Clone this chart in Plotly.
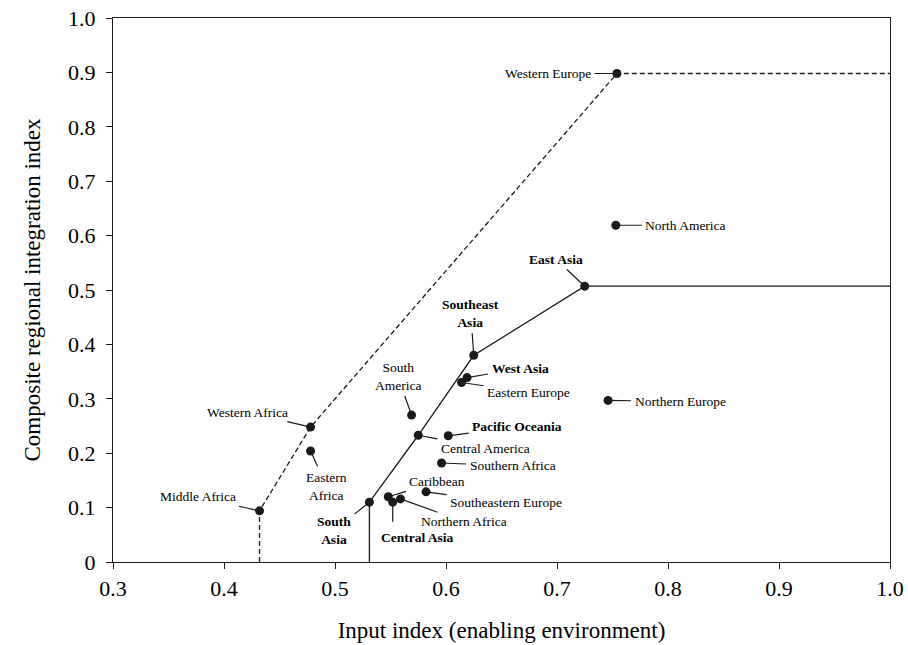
import plotly.graph_objects as go

# ---- data ----
regions = ["Western Europe", "North America", "East Asia", "Southeast Asia", "West Asia",
           "Eastern Europe", "Northern Europe", "Pacific Oceania", "Central America",
           "Southern Africa", "South America", "Western Africa", "Eastern Africa",
           "Middle Africa", "South Asia", "Caribbean", "Central Asia", "Northern Africa",
           "Southeastern Europe"]
input_index = [0.754, 0.753, 0.725, 0.625, 0.619, 0.614, 0.746, 0.602, 0.575,
               0.596, 0.569, 0.478, 0.478, 0.432, 0.531, 0.548, 0.552, 0.559, 0.582]
composite_index = [0.898, 0.619, 0.507, 0.380, 0.339, 0.330, 0.297, 0.232, 0.233,
                   0.182, 0.270, 0.248, 0.204, 0.094, 0.110, 0.120, 0.110, 0.116, 0.129]
bold_regions = ["East Asia", "Southeast Asia", "West Asia", "Pacific Oceania",
                "South Asia", "Central Asia"]
upper_frontier = ["Middle Africa", "Western Africa", "Western Europe"]
lower_frontier = ["South Asia", "Central America", "Southeast Asia", "East Asia"]
x_ticks = [0.3, 0.4, 0.5, 0.6, 0.7, 0.8, 0.9, 1.0]
x_tick_labels = ["0.3", "0.4", "0.5", "0.6", "0.7", "0.8", "0.9", "1.0"]
y_ticks = [0, 0.1, 0.2, 0.3, 0.4, 0.5, 0.6, 0.7, 0.8, 0.9, 1.0]
y_tick_labels = ["0", "0.1", "0.2", "0.3", "0.4", "0.5", "0.6", "0.7", "0.8", "0.9", "1.0"]
X_RANGE = [0.3, 1.0]
Y_RANGE = [0, 1.0]

# ---- label layout (pixel offsets of the text from its point) ----
label_layout = {
    "Western Europe": (-69, 0, "Western Europe"),
    "North America": (70, 0, "North America"),
    "East Asia": (-29, -27, "East Asia"),
    "Southeast Asia": (-3, -42, "Southeast<br>Asia"),
    "West Asia": (53, -9, "West Asia"),
    "Eastern Europe": (67, 10, "Eastern Europe"),
    "Northern Europe": (72, 1, "Northern Europe"),
    "Pacific Oceania": (69, -9, "Pacific Oceania"),
    "Central America": (67, 13, "Central America"),
    "Southern Africa": (71, 3, "Southern Africa"),
    "South America": (-14, -39, "South<br>America"),
    "Western Africa": (-63, -15, "Western Africa"),
    "Eastern Africa": (16, 35, "Eastern<br>Africa"),
    "Middle Africa": (-62, -14, "Middle Africa"),
    "South Asia": (-35, 28, "South<br>Asia"),
    "Caribbean": (49, -15, "Caribbean"),
    "Northern Africa": (64, 23, "Northern Africa"),
    "Southeastern Europe": (80, 11, "Southeastern Europe"),
}

FONT = "Liberation Serif"
INK = "#1a1a1a"

lookup = {r: (x, y) for r, x, y in zip(regions, input_index, composite_index)}

fig = go.Figure()

# upper (dashed) frontier
ux = [lookup[upper_frontier[0]][0]] + [lookup[r][0] for r in upper_frontier] + [X_RANGE[1]]
uy = [Y_RANGE[0]] + [lookup[r][1] for r in upper_frontier] + [lookup[upper_frontier[-1]][1]]
fig.add_trace(go.Scatter(x=ux, y=uy, mode="lines", cliponaxis=False,
                         line=dict(color=INK, width=1.3, dash="5px,3px"), hoverinfo="skip"))
# lower (solid) frontier
lx = [lookup[lower_frontier[0]][0]] + [lookup[r][0] for r in lower_frontier] + [X_RANGE[1]]
ly = [Y_RANGE[0]] + [lookup[r][1] for r in lower_frontier] + [lookup[lower_frontier[-1]][1]]
fig.add_trace(go.Scatter(x=lx, y=ly, mode="lines", cliponaxis=False,
                         line=dict(color=INK, width=1.3), hoverinfo="skip"))

# points
fig.add_trace(go.Scatter(x=input_index, y=composite_index, mode="markers", text=regions,
                         marker=dict(color=INK, size=9), hoverinfo="text"))

annotations = []
for r, (ax, ay, txt) in label_layout.items():
    x, y = lookup[r]
    t = f"<b>{txt}</b>" if r in bold_regions else txt
    annotations.append(dict(x=x, y=y, xref="x", yref="y", text=t, showarrow=True,
                            ax=ax, ay=ay, arrowhead=0, arrowwidth=1.2, arrowcolor=INK,
                            startstandoff=2, font=dict(family=FONT, size=13.5, color="#000"),
                            align="center"))
# Central Asia: vertical leader with text placed below-right
cx, cy = lookup["Central Asia"]
annotations.append(dict(x=cx, y=cy, xref="x", yref="y", text="", showarrow=True,
                        ax=0, ay=21, arrowhead=0, arrowwidth=1.2, arrowcolor=INK))
annotations.append(dict(x=cx, y=cy, xref="x", yref="y", text="<b>Central Asia</b>",
                        showarrow=False, xshift=25, yshift=-35,
                        font=dict(family=FONT, size=13.5, color="#000")))

fig.update_layout(
    width=908, height=645,
    margin=dict(l=113, r=18, t=18, b=83, autoexpand=False),
    paper_bgcolor="white", plot_bgcolor="white",
    showlegend=False,
    font=dict(family=FONT, color="#000"),
    annotations=annotations,
    xaxis=dict(range=X_RANGE, tickvals=x_ticks, ticktext=x_tick_labels, automargin=False,
               showgrid=False, zeroline=False, showline=True, mirror=True,
               linecolor=INK, linewidth=1.2, ticks="outside", ticklen=6, tickcolor=INK,
               ticklabeloverflow="allow",
               tickfont=dict(family=FONT, size=22, color="#000"),
               title=dict(text="Input index (enabling environment)",
                          font=dict(family=FONT, size=23, color="#000"), standoff=22)),
    yaxis=dict(range=Y_RANGE, tickvals=y_ticks, ticktext=y_tick_labels, automargin=False,
               showgrid=False, zeroline=False, showline=True, mirror=True,
               linecolor=INK, linewidth=1.2, ticks="outside", ticklen=6, tickcolor=INK,
               ticklabelstandoff=6, ticklabeloverflow="allow",
               tickfont=dict(family=FONT, size=22, color="#000"),
               title=dict(text="Composite regional integration index",
                          font=dict(family=FONT, size=23, color="#000"), standoff=20)),
)

fig.write_html("out.html", config={"displayModeBar": False},
               post_script="document.body.style.margin='0';document.body.style.overflow='hidden';")
